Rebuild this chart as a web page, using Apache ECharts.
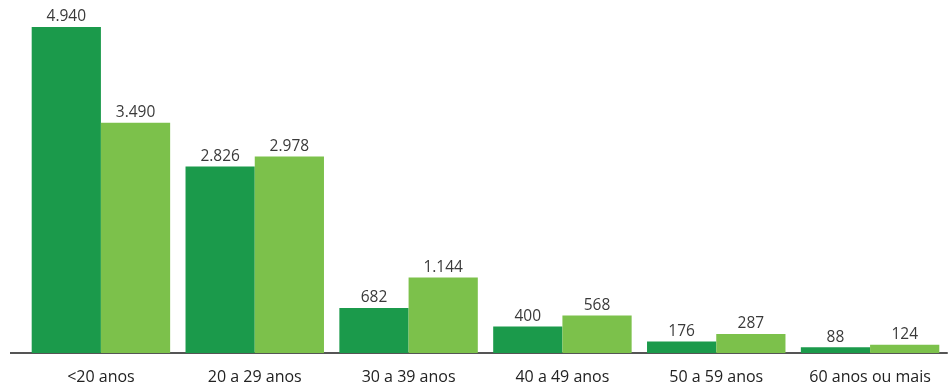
<!DOCTYPE html>
<html>
<head>
<meta charset="utf-8">
<script src="https://cdn.jsdelivr.net/npm/echarts@6/dist/echarts.min.js"></script>
<style>html,body{margin:0;padding:0;background:#fff}#c{width:950px;height:386px}</style>
</head>
<body>
<div id="c"></div>
<script>
const categories = ['<20 anos', '20 a 29 anos', '30 a 39 anos', '40 a 49 anos', '50 a 59 anos', '60 anos ou mais'];
const seriesA = [4940, 2826, 682, 400, 176, 88];
const seriesB = [3490, 2978, 1144, 568, 287, 124];

const fmt = v => String(v).replace(/\B(?=(\d{3})+(?!\d))/g, '.');
const chart = echarts.init(document.getElementById('c'));
const labelCfg = {
  show: true, position: 'top', distance: 2,
  fontFamily: 'Open Sans', fontSize: 15.5, color: '#3a3a3a',
  formatter: p => fmt(p.value)
};
chart.setOption({
  animation: false,
  grid: { left: 24, right: 3, top: 23, bottom: 33 },
  xAxis: {
    type: 'category', data: categories,
    axisLine: { show: true, lineStyle: { color: '#555', width: 2 } },
    axisTick: { show: false },
    axisLabel: { margin: 16, fontFamily: 'Open Sans', fontSize: 16, color: '#222', interval: 0 }
  },
  yAxis: { type: 'value', min: 0, max: 5000, show: false, splitLine: { show: false } },
  graphic: [{ type: 'line', shape: { x1: 10, y1: 353, x2: 25, y2: 353 }, style: { stroke: '#555', lineWidth: 2 } }],
  series: [
    { type: 'bar', data: seriesA, barGap: '0%', barCategoryGap: '10%', itemStyle: { color: '#1b9a4b' }, label: labelCfg },
    { type: 'bar', data: seriesB, barGap: '0%', barCategoryGap: '10%', itemStyle: { color: '#7cc14b' }, label: labelCfg }
  ]
});
</script>
</body>
</html>
